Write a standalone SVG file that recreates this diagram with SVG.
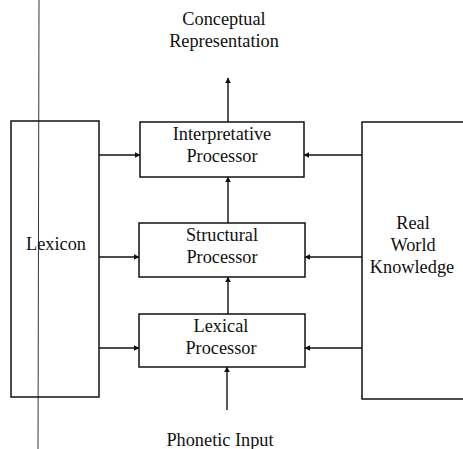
<svg xmlns="http://www.w3.org/2000/svg" width="463" height="449" viewBox="0 0 463 449">
<style>
.box{fill:none;stroke:#111;stroke-width:1.5}
.t{font-family:'Liberation Serif','DejaVu Serif',serif;font-size:18.3px;fill:#111;text-anchor:middle}
.c{stroke:#111;stroke-width:1.4;fill:none;marker-end:url(#ah)}
</style>
<defs>
<marker id="ah" viewBox="0 0 10 10" refX="9" refY="5" markerWidth="6" markerHeight="6" markerUnits="userSpaceOnUse" orient="auto">
<path d="M0,0 L10,5 L0,10 z" fill="#111"/>
</marker>
</defs>
<rect width="463" height="449" fill="#fff"/>
<line x1="39" y1="0" x2="38" y2="449" stroke="#333" stroke-width="1"/>
<text class="t" x="224" y="25">Conceptual</text>
<text class="t" x="224" y="47">Representation</text>
<g id="lexicon">
<rect class="box" x="11" y="121" width="88" height="276"/>
<text class="t" x="56" y="250">Lexicon</text>
</g>
<g id="interpretative">
<rect class="box" x="140" y="122" width="164" height="55"/>
<text class="t" x="222" y="140">Interpretative</text>
<text class="t" x="222" y="162">Processor</text>
</g>
<g id="structural">
<rect class="box" x="139" y="223" width="166" height="54"/>
<text class="t" x="222" y="241">Structural</text>
<text class="t" x="222" y="263">Processor</text>
</g>
<g id="lexical">
<rect class="box" x="139" y="314" width="166" height="53"/>
<text class="t" x="221" y="332">Lexical</text>
<text class="t" x="221" y="354">Processor</text>
</g>
<g id="realworld">
<rect class="box" x="362" y="122" width="104" height="277"/>
<text class="t" x="413" y="229">Real</text>
<text class="t" x="413" y="251">World</text>
<text class="t" x="412" y="273">Knowledge</text>
</g>
<text class="t" x="220" y="446">Phonetic Input</text>
<g id="connectors">
<line class="c" x1="228" y1="122" x2="228" y2="78"/>
<line class="c" x1="228" y1="223" x2="228" y2="177"/>
<line class="c" x1="228" y1="314" x2="228" y2="277"/>
<line class="c" x1="227" y1="410" x2="227" y2="367"/>
<line class="c" x1="99" y1="155" x2="140" y2="155"/>
<line class="c" x1="99" y1="257" x2="139" y2="257"/>
<line class="c" x1="99" y1="348" x2="139" y2="348"/>
<line class="c" x1="362" y1="155" x2="304" y2="155"/>
<line class="c" x1="362" y1="257" x2="305" y2="257"/>
<line class="c" x1="362" y1="348" x2="305" y2="348"/>
</g>
</svg>
